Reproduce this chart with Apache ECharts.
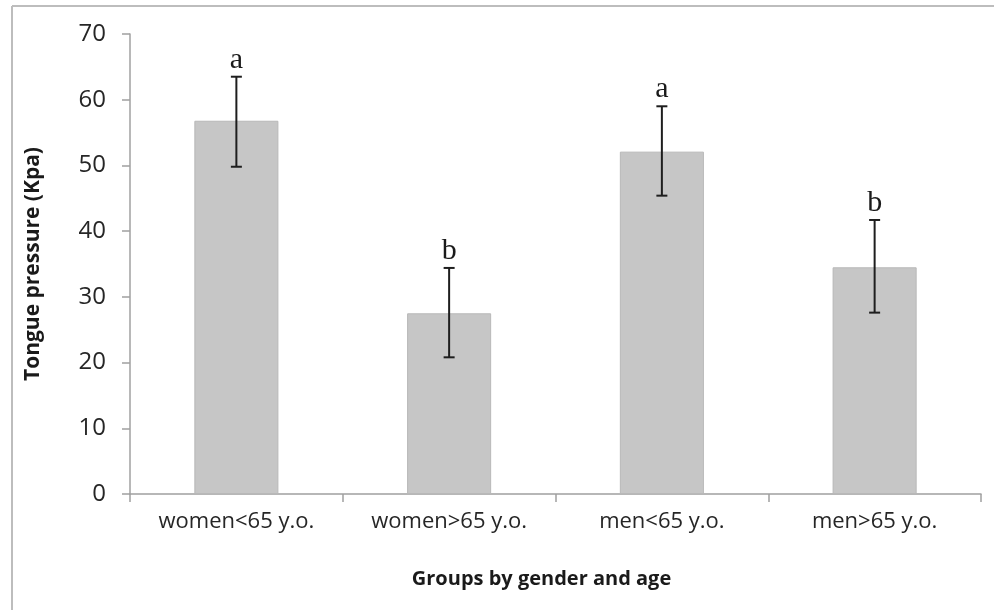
<!DOCTYPE html>
<html>
<head>
<meta charset="utf-8">
<script src="https://cdn.jsdelivr.net/npm/echarts@6/dist/echarts.min.js"></script>
<style>
html,body{margin:0;padding:0;background:#fff;}
#chart{width:994px;height:610px;}
</style>
</head>
<body>
<div id="chart"></div>
<script>
var categories = ['women<65 y.o.', 'women>65 y.o.', 'men<65 y.o.', 'men>65 y.o.'];
var means = [56.8, 27.5, 52.1, 34.5];
var errLow = [49.8, 20.8, 45.4, 27.6];
var errHigh = [63.5, 34.4, 59.0, 41.7];
var letters = ['a', 'b', 'a', 'b'];
var yTicks = [0, 10, 20, 30, 40, 50, 60, 70];

var chart = echarts.init(document.getElementById('chart'), null, {renderer: 'canvas'});

var errData = categories.map(function (c, i) { return [i, errLow[i], errHigh[i], letters[i]]; });

var option = {
  backgroundColor: '#ffffff',
  animation: false,
  grid: {left: 130, right: 13, top: 34, bottom: 116, containLabel: false},
  graphic: [
    {type: 'line', shape: {x1: 12, y1: 6, x2: 994, y2: 6}, style: {stroke: '#bdbdbd', lineWidth: 2}, silent: true},
    {type: 'line', shape: {x1: 12, y1: 6, x2: 12, y2: 610}, style: {stroke: '#bdbdbd', lineWidth: 2}, silent: true}
  ],
  xAxis: {
    type: 'category',
    data: categories,
    name: 'Groups by gender and age',
    nameLocation: 'middle',
    nameGap: 75,
    nameTextStyle: {fontFamily: 'Open Sans', fontWeight: 'bold', fontSize: 20, color: '#1a1a1a', padding: [0, 28, 0, 0]},
    axisLine: {lineStyle: {color: '#a0a0a0', width: 1.5}},
    axisTick: {show: true, length: 8, lineStyle: {color: '#a0a0a0', width: 1.5}},
    axisLabel: {fontFamily: 'Open Sans', fontSize: 22, color: '#262626', margin: 17},
    splitLine: {show: false}
  },
  yAxis: {
    type: 'value',
    min: yTicks[0],
    max: yTicks[yTicks.length - 1],
    interval: 10,
    name: 'Tongue pressure (Kpa)',
    nameLocation: 'middle',
    nameGap: 86,
    nameRotate: 90,
    nameTextStyle: {fontFamily: 'Open Sans', fontWeight: 'bold', fontSize: 21, color: '#1a1a1a'},
    axisLine: {show: true, lineStyle: {color: '#a0a0a0', width: 1.5}},
    axisTick: {show: true, length: 8, lineStyle: {color: '#a0a0a0', width: 1.5}},
    axisLabel: {fontFamily: 'Open Sans', fontSize: 24, color: '#262626', margin: 24},
    splitLine: {show: false}
  },
  series: [
    {
      type: 'bar',
      data: means,
      barWidth: '39.5%',
      itemStyle: {color: '#c6c6c6', borderColor: '#b8b8b8', borderWidth: 1}
    },
    {
      type: 'custom',
      data: errData,
      z: 10,
      renderItem: function (params, api) {
        var x = api.value(0);
        var lo = api.coord([x, api.value(1)]);
        var hi = api.coord([x, api.value(2)]);
        var half = 5.5;
        var st = {stroke: '#1e1e1e', lineWidth: 2};
        return {
          type: 'group',
          children: [
            {type: 'line', shape: {x1: lo[0], y1: lo[1], x2: hi[0], y2: hi[1]}, style: st},
            {type: 'line', shape: {x1: lo[0] - half, y1: lo[1], x2: lo[0] + half, y2: lo[1]}, style: st},
            {type: 'line', shape: {x1: hi[0] - half, y1: hi[1], x2: hi[0] + half, y2: hi[1]}, style: st},
            {type: 'text', x: hi[0], y: hi[1] - 2, style: {text: api.value(3), fontFamily: 'Liberation Serif', fontSize: 30, fill: '#1a1a1a', align: 'center', verticalAlign: 'bottom'}}
          ]
        };
      }
    }
  ]
};
chart.setOption(option);
</script>
</body>
</html>
